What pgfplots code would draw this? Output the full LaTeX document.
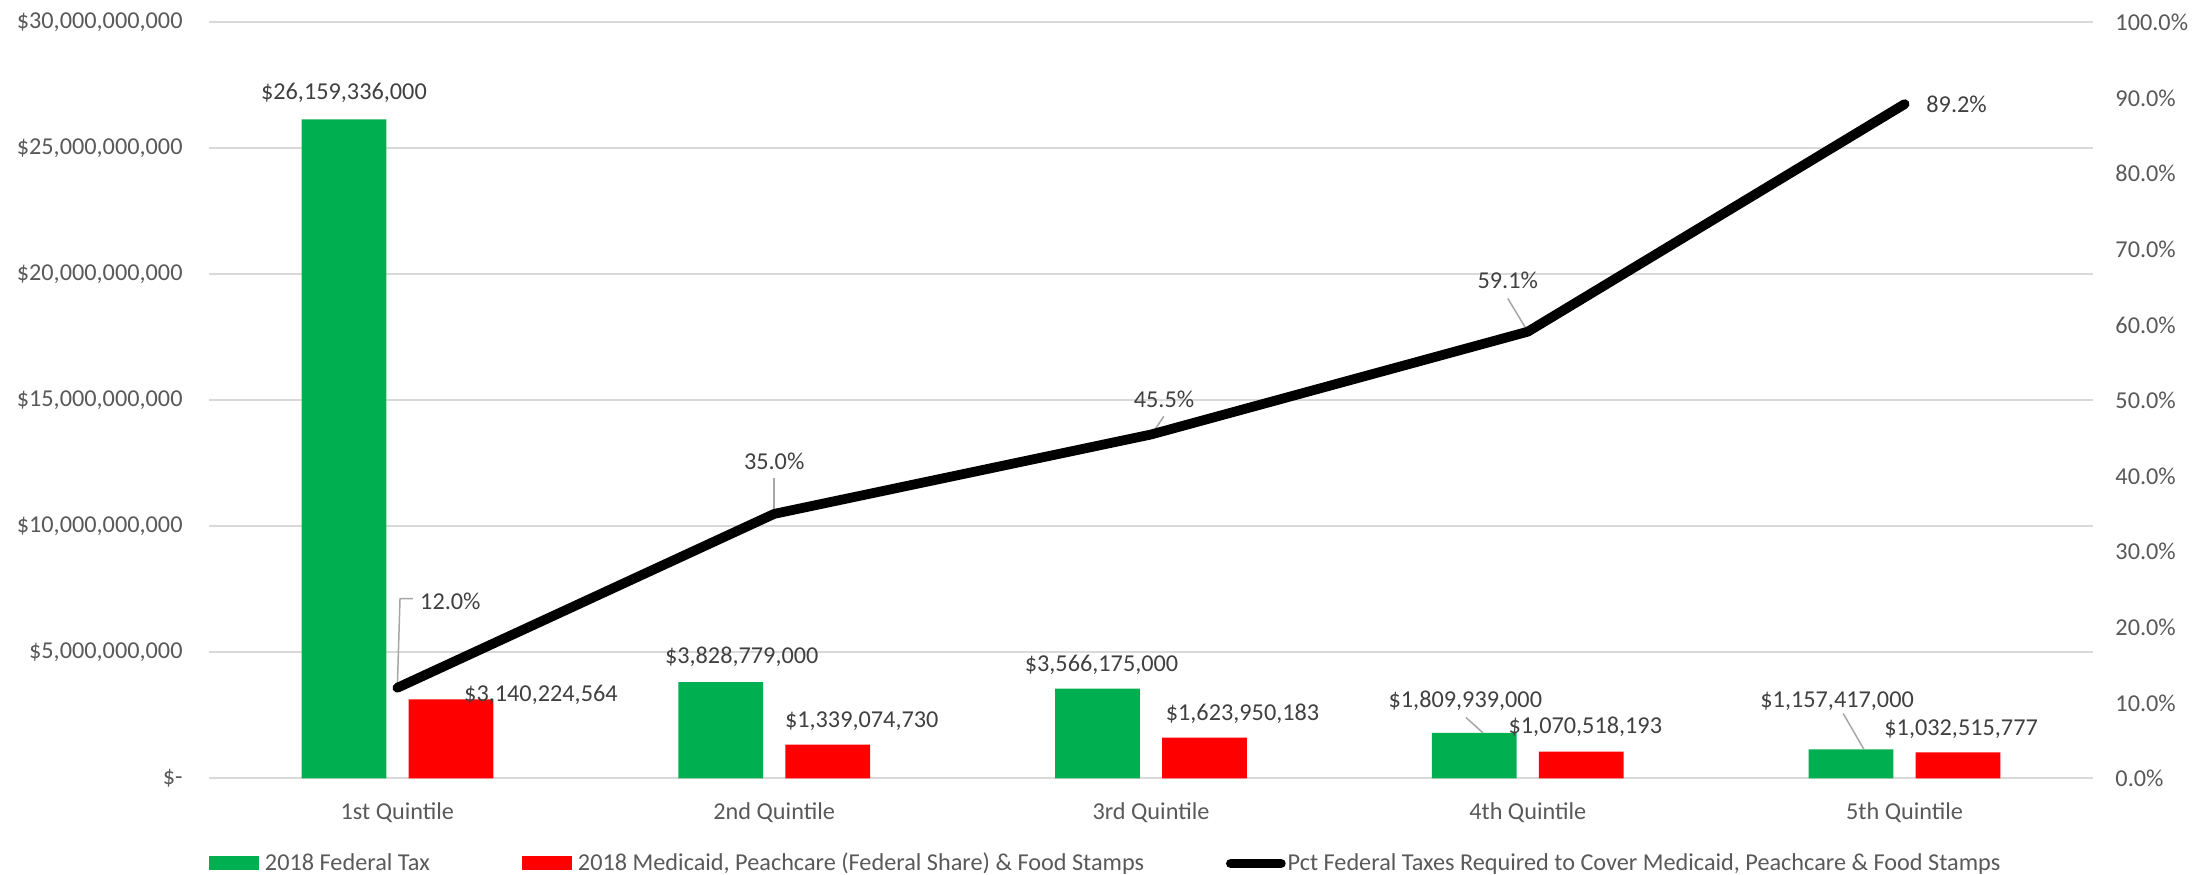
\documentclass[border=0pt]{standalone}
\usepackage{pgfplots}
\pgfplotsset{compat=1.18}
\usepackage{fontspec}
\setmainfont{Carlito}

\definecolor{barGreen}{HTML}{00B050}
\definecolor{barRed}{HTML}{FF0000}
\definecolor{txtGray}{HTML}{595959}
\definecolor{lblGray}{HTML}{404040}
\definecolor{gridGray}{HTML}{D9D9D9}
\definecolor{leadGray}{HTML}{A6A6A6}

\newcommand{\chartfont}{\fontsize{9.7pt}{11.6pt}\selectfont}

\pgfplotsset{
  base/.style={
    width=753.6pt, height=302.4pt, scale only axis,
    at={(0,0)}, anchor=south west,
    xmin=-0.5, xmax=4.5,
    axis line style={draw=none},
    major tick length=0pt,
    clip=false,
    tick label style={font=\chartfont, text=txtGray},
  },
  % label text and its offset (pt) from the data point come from the table
  lbl/.style={
    nodes near coords,
    point meta=explicit symbolic,
    visualization depends on={value \thisrow{dx}\as\lbldx},
    visualization depends on={value \thisrow{dy}\as\lbldy},
    nodes near coords style={anchor=center, inner sep=0pt,
      xshift=\lbldx pt, yshift=\lbldy pt, font=\chartfont, text=lblGray},
  },
  barkey/.style={legend image code/.code={
    \fill[##1] (0pt,-2.8pt) rectangle (20pt,2.8pt);}},
  linekey/.style={legend image code/.code={
    \draw[##1] (2pt,0pt) -- (22pt,0pt);}},
}

\begin{document}
\begin{tikzpicture}[font=\chartfont]
\useasboundingbox (-83.6pt,-38.6pt) rectangle (800.8pt,311.4pt);

% dollars, left axis
\begin{axis}[base,
  ymin=0, ymax=30000000000,
  ytick={0,5000000000,10000000000,15000000000,20000000000,25000000000,30000000000},
  yticklabels={{\$-},{\$5,000,000,000},{\$10,000,000,000},{\$15,000,000,000},
    {\$20,000,000,000},{\$25,000,000,000},{\$30,000,000,000}},
  yticklabel style={anchor=east, inner sep=0pt, xshift=-10.4pt},
  ymajorgrids, grid style={gridGray, line width=0.8pt},
  xtick={0,1,2,3,4},
  xticklabels={1st Quintile,2nd Quintile,3rd Quintile,4th Quintile,5th Quintile},
  xticklabel style={anchor=center, inner sep=0pt, yshift=-13.6pt},
]
% dx includes the bar shift (21.4pt), which the xshift replaces
\addplot[ybar, bar width=0.225, bar shift=-0.142, fill=barGreen, draw=none, lbl]
  table[x=x, y=y, meta=lab] {
x y lab dx dy
0 26159336000 {\$26,159,336,000} -21.4 10.4
1 3828779000 {\$3,828,779,000} -13 10
2 3566175000 {\$3,566,175,000} -19.8 9.6
3 1809939000 {\$1,809,939,000} -25 12.8
4 1157417000 {\$1,157,417,000} -27 19.2
};
\addplot[ybar, bar width=0.225, bar shift=0.142, fill=barRed, draw=none, lbl]
  table[x=x, y=y, meta=lab] {
x y lab dx dy
0 3140224564 {\$3,140,224,564} 57.4 1.6
1 1339074730 {\$1,339,074,730} 35 9.6
2 1623950183 {\$1,623,950,183} 36.6 9.6
3 1070518193 {\$1,070,518,193} 23 10
4 1032515777 {\$1,032,515,777} 22.6 9.2
};
% leader lines of the small green labels
\draw[leadGray, line width=0.6pt] (axis cs:2.836,2420000000) -- (axis cs:2.881,1810000000);
\draw[leadGray, line width=0.6pt] (axis cs:3.837,2580000000) -- (axis cs:3.892,1157417000);
\end{axis}

% percent, right axis
\begin{axis}[base,
  axis y line*=right, axis x line=none,
  ymin=0, ymax=100,
  ytick={0,10,20,30,40,50,60,70,80,90,100},
  yticklabels={0.0\%,10.0\%,20.0\%,30.0\%,40.0\%,50.0\%,60.0\%,70.0\%,80.0\%,90.0\%,100.0\%},
  yticklabel style={anchor=west, inner sep=0pt, xshift=8.8pt},
  legend columns=-1,
  legend style={at={(0,0)}, anchor=west, yshift=-34pt,
    draw=none, fill=none, inner sep=0pt, outer sep=0pt,
    column sep=0pt, font=\chartfont, text=txtGray,
    nodes={inner sep=0pt, outer sep=0pt, anchor=west}},
]
\addlegendimage{barkey, fill=barGreen, draw=none}
\addlegendentry{\makebox[105.2pt][l]{\hspace{2.4pt}2018 Federal Tax}}
\addlegendimage{barkey, fill=barRed, draw=none}
\addlegendentry{\makebox[261.6pt][l]{\hspace{2.4pt}2018 Medicaid, Peachcare (Federal Share) \& Food Stamps}}

\draw[leadGray, line width=0.6pt] (axis cs:0.0,12.4) -- (axis cs:0.007,23.8) -- (axis cs:0.041,23.8);
\draw[leadGray, line width=0.6pt] (axis cs:1.0,39.7) -- (axis cs:1.0,35.3);
\draw[leadGray, line width=0.6pt] (axis cs:2.034,47.9) -- (axis cs:2.003,45.6);
\draw[leadGray, line width=0.6pt] (axis cs:2.947,63.5) -- (axis cs:3.0,59.1);

\addplot[black, line width=3.9pt, line cap=round, line join=round, mark=none, lbl, linekey]
  table[x=x, y=y, meta=lab] {
x y lab dx dy
0 12.0 {12.0\%} 21.2 34.4
1 35.0 {35.0\%} 0 21.2
2 45.5 {45.5\%} 5.2 14
3 59.1 {59.1\%} -8 20.4
4 89.2 {89.2\%} 20.8 0
};
\addlegendentry{\hspace{0.8pt}Pct Federal Taxes Required to Cover Medicaid, Peachcare \& Food Stamps}
\end{axis}
\end{tikzpicture}
\end{document}
